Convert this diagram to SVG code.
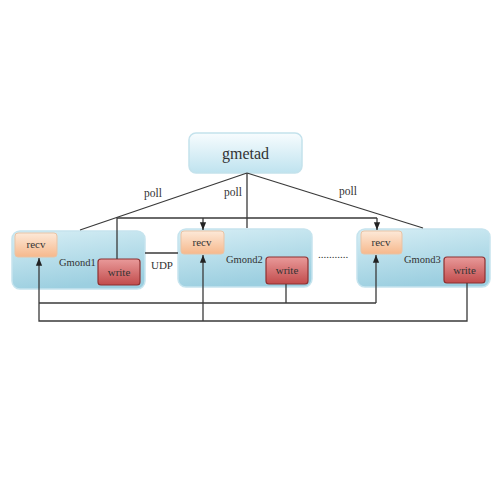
<svg xmlns="http://www.w3.org/2000/svg" width="500" height="500" viewBox="0 0 500 500">
<defs>
<linearGradient id="gBlue" x1="0" y1="0" x2="0.3" y2="1">
<stop offset="0" stop-color="#d6eef5"/>
<stop offset="1" stop-color="#9ccfe0"/>
</linearGradient>
<linearGradient id="gTop" x1="0" y1="0" x2="0" y2="1">
<stop offset="0" stop-color="#f7fcfe"/>
<stop offset="1" stop-color="#bfe3ef"/>
</linearGradient>
<linearGradient id="gRecv" x1="0" y1="0" x2="0" y2="1">
<stop offset="0" stop-color="#fde9d8"/>
<stop offset="1" stop-color="#f6b88c"/>
</linearGradient>
<linearGradient id="gWrite" x1="0" y1="0" x2="0" y2="1">
<stop offset="0" stop-color="#e99a9a"/>
<stop offset="1" stop-color="#c24c4c"/>
</linearGradient>
<marker id="arr" viewBox="0 0 10 10" refX="10" refY="5" markerWidth="6" markerHeight="6" orient="auto">
<path d="M0,1 L10,5 L0,9 z" fill="#222"/>
</marker>
</defs>
<style>
text{font-family:"Liberation Serif","Times New Roman",serif;fill:#333}
.gm{fill:url(#gBlue);stroke:#c6e4ee;stroke-width:1.5}
.recv{fill:url(#gRecv);stroke:#e9c3a5;stroke-width:1}
.write{fill:url(#gWrite);stroke:#8e3030;stroke-width:1.2}
.ln{fill:none;stroke:#3a3a3a;stroke-width:1.3}
.lbl{font-size:11.5px}
.nm{font-size:10.5px}
.small{font-size:11px}
</style>
<rect width="500" height="500" fill="#fff"/>

<g id="gmetad">
<rect x="189" y="133" width="113" height="40" rx="7" fill="url(#gTop)" stroke="#c4e2ec" stroke-width="1.5"/>
<text x="245.5" y="159" text-anchor="middle" font-size="16">gmetad</text>
</g>

<g id="gmond1">
<rect class="gm" x="12" y="231" width="133" height="58" rx="8"/>
<g id="recv1"><rect class="recv" x="15" y="233" width="42" height="24" rx="3"/><text class="small" x="36" y="248" text-anchor="middle">recv</text></g>
<text class="nm" x="59" y="266">Gmond1</text>
<g id="write1"><rect class="write" x="98" y="259" width="42" height="26" rx="3"/><text class="small" x="119" y="276" text-anchor="middle" fill="#3a1a1a">write</text></g>
</g>

<g id="gmond2">
<rect class="gm" x="178" y="229" width="134" height="58" rx="8"/>
<g id="recv2"><rect class="recv" x="181" y="231" width="43" height="23" rx="3"/><text class="small" x="202" y="246" text-anchor="middle">recv</text></g>
<text class="nm" x="226" y="263">Gmond2</text>
<g id="write2"><rect class="write" x="266" y="257" width="42" height="27" rx="3"/><text class="small" x="287" y="274" text-anchor="middle" fill="#3a1a1a">write</text></g>
</g>

<g id="gmond3">
<rect class="gm" x="357" y="229" width="133" height="58" rx="8"/>
<g id="recv3"><rect class="recv" x="361" y="231" width="41" height="23" rx="3"/><text class="small" x="381" y="246" text-anchor="middle">recv</text></g>
<text class="nm" x="404" y="263">Gmond3</text>
<g id="write3"><rect class="write" x="444" y="257" width="41" height="26" rx="3"/><text class="small" x="464.5" y="274" text-anchor="middle" fill="#3a1a1a">write</text></g>
</g>

<g id="connectors">
<path class="ln" d="M247,173 L80,230"/>
<path class="ln" d="M247,173 L247,228"/>
<path class="ln" d="M247,173 L423,228"/>
<path class="ln" d="M117,259 L117,218 L377,218"/>
<path class="ln" d="M203,218 L203,230" marker-end="url(#arr)"/>
<path class="ln" d="M377,218 L377,230" marker-end="url(#arr)"/>
<path class="ln" d="M145,253 L178,253"/>
<path class="ln" d="M286,284 L286,303"/>
<path class="ln" d="M39,303 L376,303"/>
<path class="ln" d="M376,303 L376,255" marker-end="url(#arr)"/>
<path class="ln" d="M467,283 L467,321 L39,321 L39,258" marker-end="url(#arr)"/>
<path class="ln" d="M203,321 L203,255" marker-end="url(#arr)"/>
<text class="lbl" x="153" y="197" text-anchor="middle">poll</text>
<text class="lbl" x="233" y="196" text-anchor="middle">poll</text>
<text class="lbl" x="348" y="195" text-anchor="middle">poll</text>
<text class="small" x="162" y="269" text-anchor="middle">UDP</text>
<text class="small" x="333" y="258" text-anchor="middle" fill="#666">...........</text>
</g>
</svg>
